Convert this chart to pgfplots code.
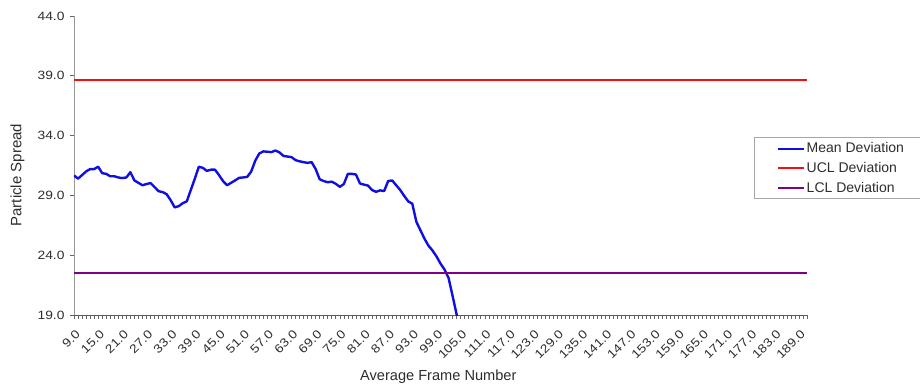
\documentclass[border=0pt]{standalone}
\usepackage{pgfplots}
\usepackage{pgfplotstable}
\pgfplotsset{compat=1.18}
\usepackage{fontspec}
\setmainfont{Liberation Sans}
\newfontfamily\tickfont[FakeStretch=1.15]{Liberation Sans}
\definecolor{meanblue}{RGB}{15,15,225}
\definecolor{uclred}{RGB}{245,15,15}
\definecolor{lclpurple}{RGB}{125,0,135}
\definecolor{txt}{RGB}{45,45,45}
\pgfplotstableread{
x y
9 30.67
10 30.40
11 30.70
12 31.00
13 31.20
14 31.20
15 31.40
16 30.86
17 30.80
18 30.60
19 30.60
20 30.50
21 30.45
22 30.50
23 30.94
24 30.25
25 30.05
26 29.85
27 29.95
28 30.03
29 29.70
30 29.35
31 29.28
32 29.10
33 28.60
34 28.00
35 28.10
36 28.35
37 28.50
38 29.45
39 30.40
40 31.40
41 31.30
42 31.05
43 31.15
44 31.15
45 30.70
46 30.20
47 29.85
48 30.05
49 30.25
50 30.47
51 30.50
52 30.55
53 31.00
54 31.90
55 32.50
56 32.68
57 32.65
58 32.62
59 32.75
60 32.60
61 32.30
62 32.25
63 32.20
64 31.95
65 31.85
66 31.78
67 31.72
68 31.78
69 31.20
70 30.35
71 30.20
72 30.10
73 30.15
74 29.97
75 29.72
76 29.95
77 30.80
78 30.80
79 30.75
80 30.00
81 29.90
82 29.82
83 29.45
84 29.30
85 29.42
86 29.36
87 30.20
88 30.25
89 29.85
90 29.45
91 28.95
92 28.50
93 28.30
94 26.80
95 26.10
96 25.40
97 24.80
98 24.40
99 23.90
100 23.30
101 22.80
102 22.10
103 20.60
104 19.05
105 17.50
}\meandata
\begin{document}
\begin{tikzpicture}
\useasboundingbox (0,0) rectangle (920pt,389pt);
\begin{axis}[
  at={(74pt,74pt)}, anchor=south west,
  scale only axis, width=733pt, height=299pt,
  xmin=9, xmax=191, ymin=19, ymax=44,
  axis lines*=left,
  axis line style={gray!80, line width=0.8pt},
  x axis line style={black!65},
  xtick={9,15,...,189},
  minor xtick={9,...,191},
  ytick={19,24,...,44},
  tick align=outside,
  major tick length=4pt, minor tick length=4pt,
  tick style={black!60, line width=0.6pt},
  /pgf/number format/.cd, fixed, fixed zerofill, precision=1, assume math mode=true,
  /pgfplots/.cd,
  ticklabel style={font=\tickfont\fontsize{12}{13}\selectfont, text=txt},
  xticklabel style={rotate=45, anchor=east, xshift=-3pt, yshift=-12pt},
  yticklabel style={xshift=-2pt},
  xlabel={Average Frame Number},
  ylabel={Particle Spread},
  xlabel style={font=\fontsize{14.6}{16}\selectfont, text=txt, at={(axis description cs:0.497,-0.207)}, anchor=center},
  ylabel style={font=\fontsize{15}{16}\selectfont, text=txt, at={(axis description cs:-0.077,0.468)}, anchor=center},
  legend style={at={(axis description cs:0.928,0.594)}, anchor=north west,
    draw=gray!70, line width=0.6pt, font=\fontsize{14}{15}\selectfont, text=txt,
    inner xsep=2pt, inner ysep=3pt, row sep=4pt, fill=white},
  legend cell align=left,
  legend image code/.code={\path (-20pt,0pt); \draw[#1, line width=2pt] (0pt,0pt) -- (26pt,0pt);},
]
\addplot[meanblue, line width=2.4pt, line join=round] table[x=x, y=y] {\meandata};
\addlegendentry{\makebox[110pt][l]{Mean Deviation}}
\addplot[uclred, line width=2.4pt] coordinates {(9,38.64) (191,38.64)};
\addlegendentry{\makebox[110pt][l]{UCL Deviation}}
\addplot[lclpurple, line width=2.4pt] coordinates {(9,22.53) (191,22.53)};
\addlegendentry{\makebox[110pt][l]{LCL Deviation}}
\end{axis}
\end{tikzpicture}
\end{document}
